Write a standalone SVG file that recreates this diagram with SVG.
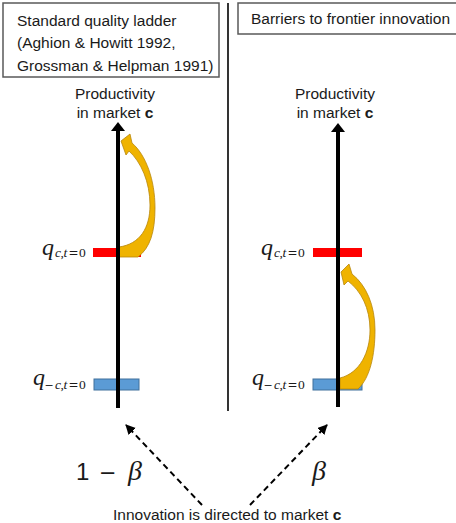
<svg xmlns="http://www.w3.org/2000/svg" width="456" height="523" viewBox="0 0 456 523">
<style>
.t{font-family:"Liberation Sans",Arial,sans-serif;font-size:15.5px;fill:#1a1a1a}
.box{fill:#fff;stroke:#595959;stroke-width:1.5}
.m{font-family:"Liberation Serif","Times New Roman",serif;fill:#1a1a1a}
.i{font-style:italic}
.op{font-family:"DejaVu Serif",serif}
.red{fill:#ff0000}
.blue{fill:#5b9bd5;stroke:#41719c;stroke-width:1}
.gold{fill:#efb300;stroke:#b8860b;stroke-width:0.8}
.axis{stroke:#000;stroke-width:4}
.dash{stroke:#000;stroke-width:2;stroke-dasharray:6 4;fill:none}
</style>
<defs>
<marker id="ah" markerUnits="userSpaceOnUse" markerWidth="12" markerHeight="12" refX="9" refY="5" orient="auto">
<path d="M0,0 L10,5 L0,10 Z" fill="#000"/>
</marker>
</defs>
<rect width="456" height="523" fill="#fff"/>

<g id="title-left">
<rect class="box" x="3" y="3" width="216" height="74"/>
<text class="t" x="17" y="26">Standard quality ladder</text>
<text class="t" x="17" y="48">(Aghion &amp; Howitt 1992,</text>
<text class="t" x="17" y="70.5">Grossman &amp; Helpman 1991)</text>
</g>

<g id="title-right">
<rect class="box" x="238" y="3" width="225" height="31"/>
<text class="t" x="251" y="24">Barriers to frontier innovation</text>
</g>

<g id="divider">
<line x1="228" y1="3" x2="228" y2="411" stroke="#000" stroke-width="1.6"/>
</g>

<g id="left-panel">
<text class="t" x="115" y="99" text-anchor="middle">Productivity</text>
<text class="t" x="115" y="118" text-anchor="middle">in market <tspan font-weight="bold">c</tspan></text>
<rect class="red" x="93" y="248" width="48" height="9"/>
<rect class="blue" x="94" y="379" width="45" height="11"/>
<path class="gold" d="M119,257 L138,257 C150,248 155,232 155,208 C155,180 146,155 132,143 L130,134 L121,141 L126,155 L129,151 C141,162 150,182 150,205 C150,228 140,244 119,247 Z"/>
<line class="axis" x1="118" y1="130" x2="118" y2="408"/>
<path d="M111,131 L118,122 L125,131 Z" fill="#000"/>
<text class="m" y="255"><tspan class="i" x="42" font-size="24">q</tspan><tspan font-size="13.5" y="257"><tspan class="i" x="55">c</tspan><tspan x="60.5">,</tspan><tspan class="i" x="63.5">t</tspan><tspan class="op" x="68.5" font-size="12">=</tspan><tspan x="79">0</tspan></tspan></text>
<text class="m" y="385"><tspan class="i" x="33" font-size="24">q</tspan><tspan font-size="13.5" y="389"><tspan class="op" x="44.5" font-size="11">−</tspan><tspan class="i" x="55">c</tspan><tspan x="60.5">,</tspan><tspan class="i" x="63.5">t</tspan><tspan class="op" x="68.5" font-size="12">=</tspan><tspan x="79">0</tspan></tspan></text>
</g>

<g id="right-panel">
<text class="t" x="335" y="99" text-anchor="middle">Productivity</text>
<text class="t" x="335" y="118" text-anchor="middle">in market <tspan font-weight="bold">c</tspan></text>
<rect class="red" x="313" y="248" width="49" height="9"/>
<rect class="blue" x="313" y="379" width="49" height="11"/>
<path class="gold" d="M340,389 L358,389 C370,378 375,355 375,330 C375,305 366,285 352,274 L349,264 L341,272 L344,285 L348,281 C361,291 370,308 370,330 C370,352 360,373 340,378 Z"/>
<line class="axis" x1="338" y1="131" x2="338" y2="407"/>
<path d="M331,132 L338,123 L345,132 Z" fill="#000"/>
<text class="m" y="255"><tspan class="i" x="261" font-size="24">q</tspan><tspan font-size="13.5" y="257"><tspan class="i" x="274">c</tspan><tspan x="279.5">,</tspan><tspan class="i" x="282.5">t</tspan><tspan class="op" x="287.5" font-size="12">=</tspan><tspan x="298">0</tspan></tspan></text>
<text class="m" y="385"><tspan class="i" x="252" font-size="24">q</tspan><tspan font-size="13.5" y="389"><tspan class="op" x="263.5" font-size="11">−</tspan><tspan class="i" x="274">c</tspan><tspan x="279.5">,</tspan><tspan class="i" x="282.5">t</tspan><tspan class="op" x="287.5" font-size="12">=</tspan><tspan x="298">0</tspan></tspan></text>
</g>

<g id="connectors">
<line class="dash" x1="202" y1="505" x2="126" y2="425" marker-end="url(#ah)"/>
<line class="dash" x1="250" y1="505" x2="327" y2="425" marker-end="url(#ah)"/>
</g>

<g id="probabilities">
<text font-family="Liberation Sans,Arial,sans-serif" font-size="24" fill="#1a1a1a" y="480"><tspan x="76">1</tspan><tspan x="99" font-family="DejaVu Sans,sans-serif" font-size="21">−</tspan></text>
<text class="m i" x="128" y="480" font-size="28">β</text>
<text class="m i" x="312" y="480" font-size="28">β</text>
</g>

<g id="caption">
<text class="t" x="113" y="520">Innovation is directed to market <tspan font-weight="bold">c</tspan></text>
</g>
</svg>
